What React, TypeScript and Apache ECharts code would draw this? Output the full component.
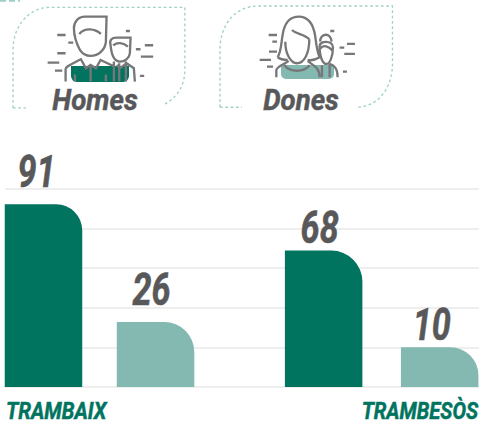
import React, { useEffect, useRef } from "react";
import * as echarts from "echarts";

const categories = ["TRAMBAIX", "TRAMBESÒS"];
const groups = ["Homes", "Dones"];
// Printed figures
const homesLabels = [91, 68];
const donesLabels = [26, 10];
// Bar heights as drawn on the 0-100 gridded axis (the small bars are drawn taller than their figures)
const homesHeights = [92.1, 68.8];
const donesHeights = [32.8, 20];
const homesSlots = [0, 4.95];
const donesSlots = [1.98, 7];
const yTicks = { min: 0, max: 100, step: 20 };

const DARK = "#00745f";
const LIGHT = "#84b9b1";
const TEXT = "#58585a";
const ICON = "#77777a";
const DASH = "#9fd0c6";
const FONT = "Roboto, 'Liberation Sans', sans-serif";

const manPath =
  "M240 150 C232 135 222 110 222 85 C222 65 235 50 255 50 L320 50 L318 125 C316 150 295 168 272 168 C258 168 246 160 240 150 Z " +
  "M238 102 C255 82 285 85 303 102 " +
  "M197 245 L197 208 C197 200 210 195 243 178 L258 205 L272 195 L288 205 L302 180 L340 198 " +
  "M272 197 L272 245 M225 224 L225 245 M318 224 L318 245 " +
  "M332 135 C328 120 335 113 350 113 L392 113 L390 160 C388 175 375 185 360 185 C345 185 335 170 332 135 Z " +
  "M340 137 C350 125 372 128 384 140 " +
  "M342 185 L342 245 M358 190 L358 245 M378 185 L378 245 M350 196 L362 204 L380 190 L402 205 L405 245 " +
  "M172 105 L197 105 M205 128 L220 128 M172 160 L197 160 M143 188 L178 188 M165 212 L187 212 " +
  "M378 93 L390 93 M408 148 L422 148 M435 136 L460 136 M423 170 L460 170 M420 228 L433 228";

const womanPath =
  "M32 172 C45 150 42 120 50 90 C58 62 75 50 95 50 C125 50 140 75 145 110 C148 135 150 155 158 172 C145 180 130 182 122 180 " +
  "M32 172 C42 180 52 180 62 180 " +
  "M55 125 C55 160 70 190 90 190 C112 190 127 160 127 118 M75 90 C90 105 110 100 127 118 " +
  "M28 232 L28 212 C28 200 50 195 65 183 M122 183 C135 195 158 200 158 232 " +
  "M52 196 C70 218 110 218 128 196 " +
  "M160 125 C158 100 192 95 194 125 " +
  "M158 138 C158 122 198 120 198 142 C198 172 188 192 178 192 C168 192 158 172 158 138 " +
  "M160 146 C170 132 185 140 197 152 " +
  "M165 196 L165 232 M188 192 L188 232 M188 192 C200 197 212 202 212 232 " +
  "M5 105 L30 105 M16 125 L30 125 M6 155 L30 155 M-22 180 L12 180 M0 200 L18 200 " +
  "M190 93 L202 93 M218 143 L232 143 M240 132 L264 132 M232 162 L264 162 M228 215 L240 215";

const frameHomes =
  "M39 324 L78 324 M39 324 L39 150 C39 80 85 22 150 22 L555 22 L555 210 C555 260 530 295 490 315";
const frameDones =
  "M60 322 L126 322 M60 322 L60 150 C60 75 105 18 175 18 L578 18 L578 190 C578 270 530 322 470 322";
const cornerDash = "M0 2 L60 2";

echarts.graphic.registerShape("manIcon", echarts.graphic.extendPath(manPath, {}));
echarts.graphic.registerShape("womanIcon", echarts.graphic.extendPath(womanPath, {}));
echarts.graphic.registerShape("frameHomes", echarts.graphic.extendPath(frameHomes, {}));
echarts.graphic.registerShape("frameDones", echarts.graphic.extendPath(frameDones, {}));
echarts.graphic.registerShape("cornerDash", echarts.graphic.extendPath(cornerDash, {}));

const third = 1 / 3;

export default function App() {
  const ref = useRef<HTMLDivElement>(null);
  useEffect(() => {
    const chart = echarts.init(ref.current!, null, { renderer: "svg" });
    const bar = (x: number, h: number, color: string, r: number) => ({
      value: [x, h],
      itemStyle: { color, borderRadius: [0, r, 0, 0] },
    });
    const data = [
      bar(homesSlots[0], homesHeights[0], DARK, 26),
      bar(donesSlots[0], donesHeights[0], LIGHT, 30),
      bar(homesSlots[1], homesHeights[1], DARK, 31),
      bar(donesSlots[1], donesHeights[1], LIGHT, 28),
    ];
    // Condensed italic figures: placed from the same values as the bars, squeezed horizontally.
    const labelData = [
      [homesSlots[0], homesHeights[0], homesLabels[0], 10, -7],
      [donesSlots[0], donesHeights[0], donesLabels[0], 10, -4],
      [homesSlots[1], homesHeights[1], homesLabels[1], 0, -4],
      [donesSlots[1], donesHeights[1], donesLabels[1], 0, -8],
    ];
    const flatText = (text: string, x: number, y: number, size: number, sx: number, fill: string, align: string) => ({
      type: "text",
      x,
      y,
      scaleX: sx,
      style: {
        text,
        fill,
        stroke: fill,
        lineWidth: 0.5,
        font: `italic bold ${size}px ${FONT}`,
        textAlign: align,
        textVerticalAlign: "middle",
      },
    });
    chart.setOption({
      animation: false,
      backgroundColor: "#ffffff",
      grid: { left: 5, right: 0, top: 188.7, height: 198.3 },
      xAxis: { type: "value", min: -0.68, max: 7.695, show: false },
      yAxis: {
        type: "value",
        min: yTicks.min,
        max: yTicks.max,
        interval: yTicks.step,
        axisLabel: { show: false },
        axisLine: { show: false },
        axisTick: { show: false },
        splitLine: { lineStyle: { color: "#e9e9e9", width: 1.7 } },
      },
      series: [
        { type: "bar", barWidth: 77.5, data },
        {
          type: "custom",
          data: labelData,
          clip: false,
          encode: { x: 0, y: 1 },
          renderItem: (_: any, api: any) => {
            const p = api.coord([api.value(0), api.value(1)]);
            const gap = api.value(3);
            const dx = api.value(4);
            return {
              type: "text",
              x: p[0] + dx,
              y: p[1] - gap,
              scaleX: 0.76,
              style: {
                text: String(api.value(2)),
                fill: TEXT,
                stroke: TEXT,
                lineWidth: 0.6,
                font: `italic bold 45px ${FONT}`,
                textAlign: "center",
                textVerticalAlign: "bottom",
              },
            };
          },
        },
      ],
      graphic: [
        { type: "cornerDash", scaleX: third, scaleY: third, style: { stroke: DASH, lineWidth: 6, lineDash: [18, 9], fill: "none" } },
        { type: "frameHomes", scaleX: third, scaleY: third, style: { stroke: DASH, lineWidth: 4, lineDash: [8, 8], fill: "none" } },
        { type: "frameDones", x: 200, scaleX: third, scaleY: third, style: { stroke: DASH, lineWidth: 4, lineDash: [8, 8], fill: "none" } },
        { type: "rect", shape: { x: 71, y: 66, width: 58, height: 16, r: [0, 0, 6, 6] }, style: { fill: DARK } },
        { type: "rect", shape: { x: 281, y: 65, width: 53, height: 14, r: [2, 2, 5, 5] }, style: { fill: LIGHT } },
        { type: "manIcon", scaleX: third, scaleY: third, style: { stroke: ICON, lineWidth: 7, fill: "none" } },
        { type: "womanIcon", x: 267, scaleX: third, scaleY: third, style: { stroke: ICON, lineWidth: 7, fill: "none" } },
        flatText(groups[0], 95, 100, 30, 0.92, TEXT, "center"),
        flatText(groups[1], 301, 100, 30, 0.92, TEXT, "center"),
        flatText(categories[0], 6, 411, 23, 0.89, DARK, "left"),
        flatText(categories[1], 478, 411, 23, 0.88, DARK, "right"),
      ],
    });
    return () => chart.dispose();
  }, []);
  return <div ref={ref} style={{ position: "absolute", left: 0, top: 0, width: 479, height: 425 }} />;
}
